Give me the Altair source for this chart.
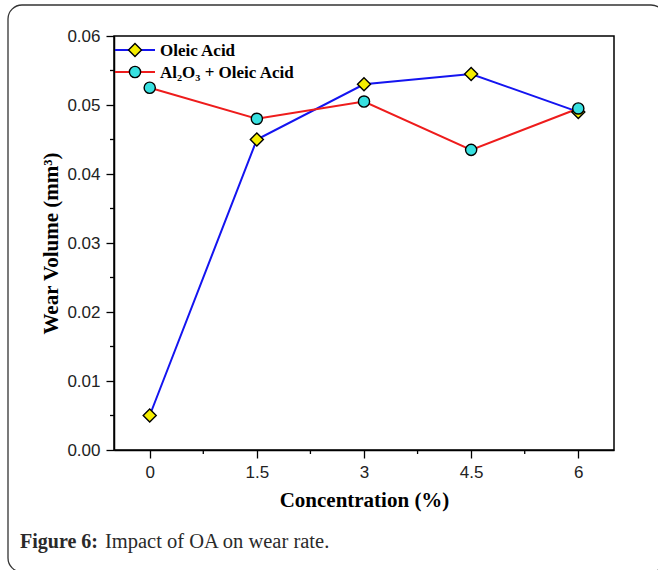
import altair as alt
import pandas as pd

# ---- data ----
concentration = [0, 1.5, 3, 4.5, 6]
oleic_acid = [0.005, 0.045, 0.053, 0.0545, 0.049]
al2o3_oleic = [0.0525, 0.048, 0.0505, 0.0435, 0.0495]
series_names = ["Oleic Acid", "Al₂O₃ + Oleic Acid"]
line_colors = ["#1414f0", "#ee1c1c"]
marker_fills = ["#f5ee00", "#38e0e0"]
marker_shapes = ["diamond", "circle"]
marker_sizes = [170, 125]

x_major = [0, 1.5, 3, 4.5, 6]
x_minor = [0.75, 2.25, 3.75, 5.25]
y_major = [0.0, 0.01, 0.02, 0.03, 0.04, 0.05, 0.06]
y_minor = [0.005, 0.015, 0.025, 0.035, 0.045, 0.055]

rows = []
for name, vals in zip(series_names, [oleic_acid, al2o3_oleic]):
    for c, v in zip(concentration, vals):
        rows.append({"series": name, "conc": c, "wear": v})
df = pd.DataFrame(rows)

W, H = 500, 414
one = pd.DataFrame({"k": [0]})

xscale = alt.Scale(domain=[-0.5, 6.5], nice=False, zero=False)
yscale = alt.Scale(domain=[0, 0.06], nice=False)

xaxis = alt.Axis(values=x_major, title="Concentration (%)", grid=False,
                 labelExpr="datum.value", tickSize=8, labelPadding=6,
                 titlePadding=9)
yaxis = alt.Axis(values=y_major, title="Wear Volume (mm³)", grid=False,
                 format=".2f", tickSize=8, labelPadding=6, titlePadding=5)

lines = alt.Chart(df).mark_line(strokeWidth=2).encode(
    x=alt.X("conc:Q", scale=xscale, axis=xaxis),
    y=alt.Y("wear:Q", scale=yscale, axis=yaxis),
    color=alt.Color("series:N", scale=alt.Scale(domain=series_names, range=line_colors), legend=None),
    order=alt.value(0),
)

point_layers = []
for i, name in enumerate(series_names):
    point_layers.append(
        alt.Chart(df).transform_filter(alt.datum.series == name).mark_point(
            shape=marker_shapes[i], filled=True, fill=marker_fills[i], stroke="black",
            strokeWidth=1.4, size=marker_sizes[i], opacity=1
        ).encode(x=alt.X("conc:Q", scale=xscale), y=alt.Y("wear:Q", scale=yscale))
    )

# minor ticks
xminor = alt.Chart(pd.DataFrame({"v": x_minor})).mark_rule(color="black", strokeWidth=1.3).encode(
    x=alt.X("v:Q", scale=xscale), y=alt.value(H), y2=alt.value(H + 4))
yminor = alt.Chart(pd.DataFrame({"v": y_minor})).mark_rule(color="black", strokeWidth=1.3).encode(
    y=alt.Y("v:Q", scale=yscale), x=alt.value(-4), x2=alt.value(0))

# legend (manual, inside top-left)
legend_layers = []
for i, name in enumerate(series_names):
    ly = 14 + 22 * i
    legend_layers.append(alt.Chart(one).mark_rule(color=line_colors[i], strokeWidth=2).encode(
        x=alt.value(1), x2=alt.value(41), y=alt.value(ly)))
    legend_layers.append(alt.Chart(one).mark_point(
        shape=marker_shapes[i], filled=True, fill=marker_fills[i], stroke="black",
        strokeWidth=1.4, size=marker_sizes[i], opacity=1).encode(x=alt.value(21), y=alt.value(ly)))
    legend_layers.append(alt.Chart(one).mark_text(
        text=name, align="left", baseline="middle", font="Liberation Serif",
        fontWeight="bold", fontSize=17, color="black").encode(x=alt.value(46), y=alt.value(ly + 1)))

# caption and outer frame
caption_bold = alt.Chart(one).mark_text(
    text="Figure 6:", align="left", baseline="alphabetic", font="Liberation Serif",
    fontWeight="bold", fontSize=20, color="#2a2a2a").encode(x=alt.value(20 - 114), y=alt.value(548 - 36))
caption_reg = alt.Chart(one).mark_text(
    text="Impact of OA on wear rate.", align="left", baseline="alphabetic", font="Liberation Serif",
    fontSize=20.5, color="#2a2a2a").encode(x=alt.value(105 - 114), y=alt.value(548 - 36))
frame = alt.Chart(one).mark_rect(fill=None, stroke="#333333", strokeWidth=1.3, cornerRadius=14).encode(
    x=alt.value(8 - 114), x2=alt.value(665 - 114), y=alt.value(5 - 36), y2=alt.value(572 - 36))

chart = alt.layer(
    frame, lines, *point_layers, xminor, yminor, *legend_layers, caption_bold, caption_reg
).properties(
    width=W, height=H,
    padding={"left": 114, "top": 36, "right": 44, "bottom": 120},
    autosize=alt.AutoSizeParams(type="none"),
    background="white",
).configure_view(
    stroke="black", strokeWidth=1.5
).configure_axis(
    domainColor="black", domainWidth=1.5, tickColor="black", tickWidth=1.3,
    labelFont="Liberation Sans", labelFontSize=17, labelColor="#222222",
    titleFont="Liberation Serif", titleFontWeight="bold", titleFontSize=21, titleColor="black",
)

chart.save("out.html", embed_options={"renderer": "svg", "actions": False})
